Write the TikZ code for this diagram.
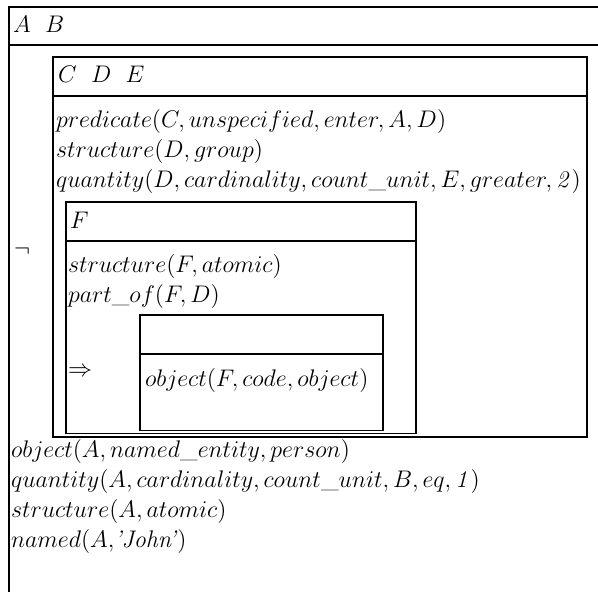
\documentclass[tikz,border=0pt,12pt]{standalone}
\begin{document}
\begin{tikzpicture}[x=0.5pt,y=-0.5pt,
  frame/.style={draw, line width=0.8pt},
  txt/.style={anchor=base west, inner sep=0pt, outer sep=0pt}]
\useasboundingbox (0,0) rectangle (598,591);
\begin{scope}
\clip (0,0) rectangle (598,591);
% outer box (cropped on right and bottom)
\draw[line width=1pt] (9,620) -- (9,7) -- (620,7);
\draw[line width=1pt] (9,45) -- (620,45);
\end{scope}
\node[txt] (ab) at (13,32) {$A\ \;B$};
% negation
\node[txt] (neg) at (14,256) {$\neg$};
% C D E box
\draw[frame] (53,57) rectangle (587,437);
\draw[frame] (53,96) -- (587,96);
\node[txt] (cde) at (58,82) {$C\ \;D\ \;E$};
\node[txt] (c1) at (56,127) {$predicate(C,unspecified,enter,A,D)$};
\node[txt] (c2) at (56,157) {$structure(D,group)$};
\node[txt] (c3) at (56,187) {$quantity(D,cardinality,count\_unit,E,greater,\mathit{2})$};
% F box
\draw[frame] (66,202) rectangle (416,433.5);
\draw[frame] (66,241) -- (416,241);
\node[txt] (f) at (70,228) {$F$};
\node[txt] (f1) at (68,272) {$structure(F,atomic)$};
\node[txt] (f2) at (68,302) {$part\_of(F,D)$};
\node[txt] (imp) at (68,376) {$\Rightarrow$};
% inner box
\draw[frame] (140,315) rectangle (383,430.5);
\draw[frame] (140,354) -- (383,354);
\node[txt] (o1) at (145,386) {$object(F,code,object)$};
% outer conditions
\node[txt] (a1) at (11,457) {$object(A,named\_entity,person)$};
\node[txt] (a2) at (11,487) {$quantity(A,cardinality,count\_unit,B,eq,\mathit{1})$};
\node[txt] (a3) at (11,517) {$structure(A,atomic)$};
\node[txt] (a4) at (11,547) {$named(A,$\textit{'John'}$)$};
\end{tikzpicture}
\end{document}
